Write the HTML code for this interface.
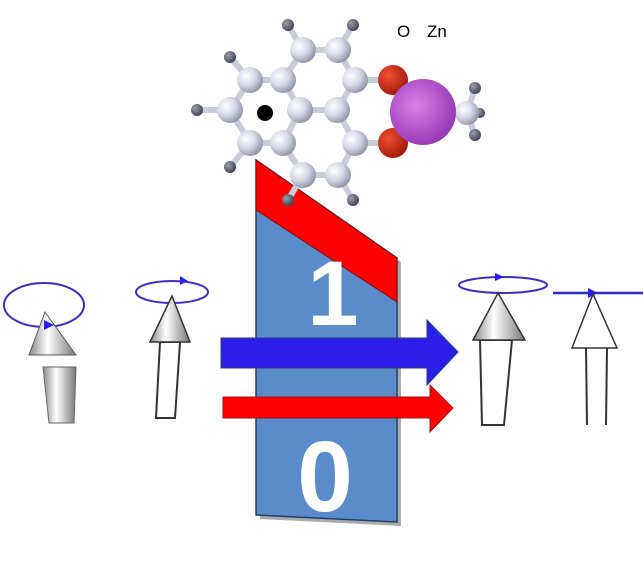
<!DOCTYPE html>
<html><head><meta charset="utf-8"><style>
html,body{margin:0;padding:0;background:#fff;width:643px;height:564px;overflow:hidden}
svg{display:block}
</style></head><body>
<svg width="643" height="564" viewBox="0 0 643 564" xmlns="http://www.w3.org/2000/svg">
<defs>
<radialGradient id="gc" cx="0.35" cy="0.35" r="0.7"><stop offset="0" stop-color="#ffffff"/><stop offset="0.5" stop-color="#d6dae8"/><stop offset="1" stop-color="#8c90a4"/></radialGradient>
<radialGradient id="gh" cx="0.35" cy="0.35" r="0.7"><stop offset="0" stop-color="#9aa0b0"/><stop offset="1" stop-color="#3c4050"/></radialGradient>
<radialGradient id="go" cx="0.35" cy="0.35" r="0.7"><stop offset="0" stop-color="#f05030"/><stop offset="1" stop-color="#a01808"/></radialGradient>
<radialGradient id="gz" cx="0.4" cy="0.4" r="0.7"><stop offset="0" stop-color="#d880e8"/><stop offset="1" stop-color="#9030b0"/></radialGradient>
<linearGradient id="gs" x1="0" x2="1"><stop offset="0" stop-color="#888"/><stop offset="0.4" stop-color="#fff"/><stop offset="1" stop-color="#777"/></linearGradient>
</defs>

<!-- slab shadow -->
<polygon points="260,164 401,262 401,526 260,519" fill="#555" opacity="0.5"/>
<polygon points="256,160 397,258 397,522 256,515" fill="#5a8ccc" stroke="#23406a" stroke-width="1.5"/>
<polygon points="256,160 397,258 397,302 256,210" fill="#ff0000" stroke="#7a1010" stroke-width="1"/>
<text x="333" y="325" font-family="Liberation Sans, sans-serif" font-weight="bold" font-size="92" fill="#fff" text-anchor="middle">1</text>
<text x="325" y="511" font-family="Liberation Sans, sans-serif" font-weight="bold" font-size="100" fill="#fff" text-anchor="middle">0</text>

<!-- molecule bonds -->
<g stroke="#c8ccd8" stroke-width="6">
<line x1="303" y1="50" x2="338" y2="50"/><line x1="303" y1="50" x2="283" y2="80"/><line x1="338" y1="50" x2="355" y2="80"/>
<line x1="250" y1="80" x2="283" y2="80"/><line x1="250" y1="80" x2="230" y2="110"/><line x1="283" y1="80" x2="300" y2="110"/>
<line x1="355" y1="80" x2="337" y2="110"/><line x1="300" y1="110" x2="337" y2="110"/><line x1="230" y1="110" x2="250" y2="143"/>
<line x1="300" y1="110" x2="283" y2="143"/><line x1="337" y1="110" x2="355" y2="143"/><line x1="250" y1="143" x2="283" y2="143"/>
<line x1="283" y1="143" x2="303" y2="175"/><line x1="303" y1="175" x2="338" y2="175"/><line x1="338" y1="175" x2="355" y2="143"/>
<line x1="303" y1="50" x2="288" y2="25"/><line x1="338" y1="50" x2="353" y2="25"/><line x1="250" y1="80" x2="230" y2="57"/>
<line x1="230" y1="110" x2="197" y2="110"/><line x1="250" y1="143" x2="230" y2="167"/><line x1="303" y1="175" x2="288" y2="200"/>
<line x1="338" y1="175" x2="353" y2="200"/><line x1="355" y1="80" x2="393" y2="80"/><line x1="355" y1="143" x2="393" y2="143"/>
<line x1="467" y1="113" x2="475" y2="88"/><line x1="467" y1="113" x2="475" y2="135"/><line x1="467" y1="113" x2="480" y2="113"/>
</g>
<g fill="url(#gh)">
<circle cx="288" cy="25" r="6"/><circle cx="353" cy="25" r="6"/><circle cx="230" cy="57" r="6"/><circle cx="197" cy="110" r="6"/>
<circle cx="230" cy="167" r="6"/><circle cx="353" cy="200" r="6"/><circle cx="475" cy="88" r="6"/><circle cx="475" cy="135" r="6"/><circle cx="480" cy="113" r="5"/>
</g>
<g fill="url(#gc)">
<circle cx="303" cy="50" r="13"/><circle cx="338" cy="50" r="13"/><circle cx="250" cy="80" r="13"/><circle cx="283" cy="80" r="13"/>
<circle cx="355" cy="80" r="13"/><circle cx="230" cy="110" r="13"/><circle cx="300" cy="110" r="13"/><circle cx="337" cy="110" r="13"/>
<circle cx="250" cy="143" r="13"/><circle cx="283" cy="143" r="13"/><circle cx="355" cy="143" r="13"/><circle cx="303" cy="175" r="13"/>
<circle cx="338" cy="175" r="13"/><circle cx="467" cy="113" r="12"/>
</g>
<circle cx="288" cy="200" r="6" fill="url(#gh)"/>
<circle cx="393" cy="80" r="15" fill="url(#go)"/><circle cx="393" cy="143" r="15" fill="url(#go)"/>
<circle cx="423" cy="112" r="33" fill="url(#gz)"/>
<circle cx="265" cy="113" r="8" fill="#000"/>
<text x="397" y="37" font-family="Liberation Sans, sans-serif" font-size="17" fill="#000">O</text>
<text x="427" y="37" font-family="Liberation Sans, sans-serif" font-size="17" fill="#000">Zn</text>

<!-- big arrows -->
<polygon points="221,338 427,338 427,320 458,352 427,385 427,368 221,368" fill="#2a1ee8" stroke="#2a3a80" stroke-width="1"/>
<polygon points="223,397 430,397 430,385 453,408 430,432 430,418 223,418" fill="#ff0000" stroke="#a01010" stroke-width="1"/>

<!-- spin arrow 1 -->
<ellipse cx="44" cy="305" rx="40" ry="22" fill="none" stroke="#3a2ec0" stroke-width="2"/>
<polygon points="43,367 76,367 74,423 49,423" fill="url(#gs)" stroke="#666" stroke-width="1"/>
<polygon points="45,312 29,355 76,355" fill="url(#gs)" stroke="#555" stroke-width="1"/>
<polygon points="44,330 54,325 44,320" fill="#2a1ee8"/>
<!-- spin arrow 2 -->
<ellipse cx="172" cy="292" rx="36" ry="11" fill="none" stroke="#3a2ec0" stroke-width="2"/>
<polygon points="180,276 188,281 180,285" fill="#2a1ee8"/>
<polygon points="160,342 180,342 175,418 156,418" fill="#fff" stroke="#333" stroke-width="2"/>
<polygon points="172,296 150,342 190,342" fill="url(#gs)" stroke="#333" stroke-width="1.5"/>
<!-- spin arrow 3 -->
<ellipse cx="503" cy="285" rx="44" ry="8" fill="none" stroke="#3a2ec0" stroke-width="2"/>
<polygon points="495,273 504,277 495,281" fill="#2a1ee8"/>
<polygon points="480,340 512,340 504,425 482,425" fill="#fff" stroke="#333" stroke-width="2"/>
<polygon points="498,293 473,340 525,340" fill="url(#gs)" stroke="#333" stroke-width="1.5"/>
<!-- spin arrow 4 -->
<line x1="553" y1="293" x2="643" y2="293" stroke="#2a2ec0" stroke-width="2.5"/>
<polygon points="588,288 598,293 588,298" fill="#2a1ee8"/>
<line x1="586" y1="348" x2="587" y2="425" stroke="#333" stroke-width="2"/>
<line x1="607" y1="348" x2="606" y2="425" stroke="#333" stroke-width="2"/>
<polygon points="593,294 572,348 617,348" fill="#fff" stroke="#333" stroke-width="1.5"/>
</svg>
</body></html>
